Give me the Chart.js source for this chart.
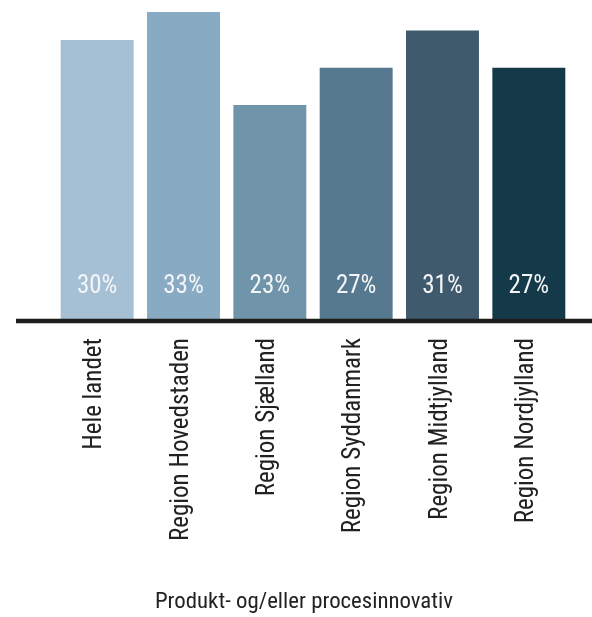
<!DOCTYPE html>
<html>
<head>
<meta charset="utf-8">
<script src="https://cdn.jsdelivr.net/npm/chart.js@4"></script>
<style>
  html, body { margin: 0; padding: 0; background: #fff; }
  #wrap { width: 592px; height: 617px; }
</style>
</head>
<body>
<div id="wrap"><canvas id="chart" width="592" height="617"></canvas></div>
<script>
/* =====================
   DATA
===================== */
const regions = [
  "Hele landet",
  "Region Hovedstaden",
  "Region Sjælland",
  "Region Syddanmark",
  "Region Midtjylland",
  "Region Nordjylland"
];
const shares = [30, 33, 23, 27, 31, 27];
const barColors = ["#a5bfd5", "#88aac3", "#7094aa", "#56798f", "#3e5a6c", "#143a4a"];
const axisTitle = "Produkt- og/eller procesinnovativ";

const FONT = "'Roboto Condensed', 'DejaVu Sans Condensed', sans-serif";

/* =====================
   PLUGINS
===================== */
// thick black baseline running the full plot width
const baseline = {
  id: "baseline",
  afterDatasetsDraw(chart) {
    const { ctx, scales } = chart;
    const y = scales.y.getPixelForValue(0) + 2;
    ctx.save();
    ctx.strokeStyle = "#1d1d1b";
    ctx.lineWidth = 4.5;
    ctx.beginPath();
    ctx.moveTo(scales.y.left, y);
    ctx.lineTo(chart.width, y);
    ctx.stroke();
    ctx.restore();
  }
};

// percentage written near the foot of each bar
const valueLabels = {
  id: "valueLabels",
  afterDatasetsDraw(chart) {
    const { ctx } = chart;
    const meta = chart.getDatasetMeta(0);
    ctx.save();
    ctx.font = "25px " + FONT;
    ctx.fillStyle = "#f3f5f7";
    ctx.textAlign = "center";
    ctx.textBaseline = "alphabetic";
    meta.data.forEach((bar, i) => {
      ctx.fillText(shares[i] + "%", bar.x, bar.base - 26);
    });
    ctx.restore();
  }
};

// empty axis used only as a spacer
const spacer = w => ({
  display: true,
  grid: { display: false },
  border: { display: false },
  ticks: { display: false },
  afterFit(scale) { scale.width = w; }
});

/* =====================
   CHART
===================== */
new Chart(document.getElementById("chart"), {
  type: "bar",
  data: {
    labels: regions,
    datasets: [{
      data: shares,
      backgroundColor: barColors,
      borderWidth: 0,
      barPercentage: 0.845,
      categoryPercentage: 1
    }]
  },
  options: {
    responsive: false,
    animation: false,
    events: [],
    layout: { padding: { left: 16, right: 0, top: 12, bottom: 0 } },
    plugins: {
      legend: { display: false },
      tooltip: { enabled: false },
      title: {
        display: true,
        position: "bottom",
        text: axisTitle,
        color: "#222",
        font: { family: FONT, size: 22.8, weight: "normal", lineHeight: 1.2 },
        padding: { top: 0, bottom: 1 }
      }
    },
    scales: {
      y: Object.assign(spacer(38), { position: "left", min: 0, max: 33 }),
      yRight: Object.assign(spacer(20), { position: "right" }),
      x: {
        grid: { display: false, drawTicks: false },
        border: { display: false },
        ticks: {
          minRotation: 90,
          maxRotation: 90,
          padding: 19,
          labelOffset: -2,
          color: "#222",
          font: { family: FONT, size: 25 }
        },
        afterFit(scale) {
          scale.height = 617 - 319 - 28.4;
        }
      }
    }
  },
  plugins: [baseline, valueLabels]
});
</script>
</body>
</html>
